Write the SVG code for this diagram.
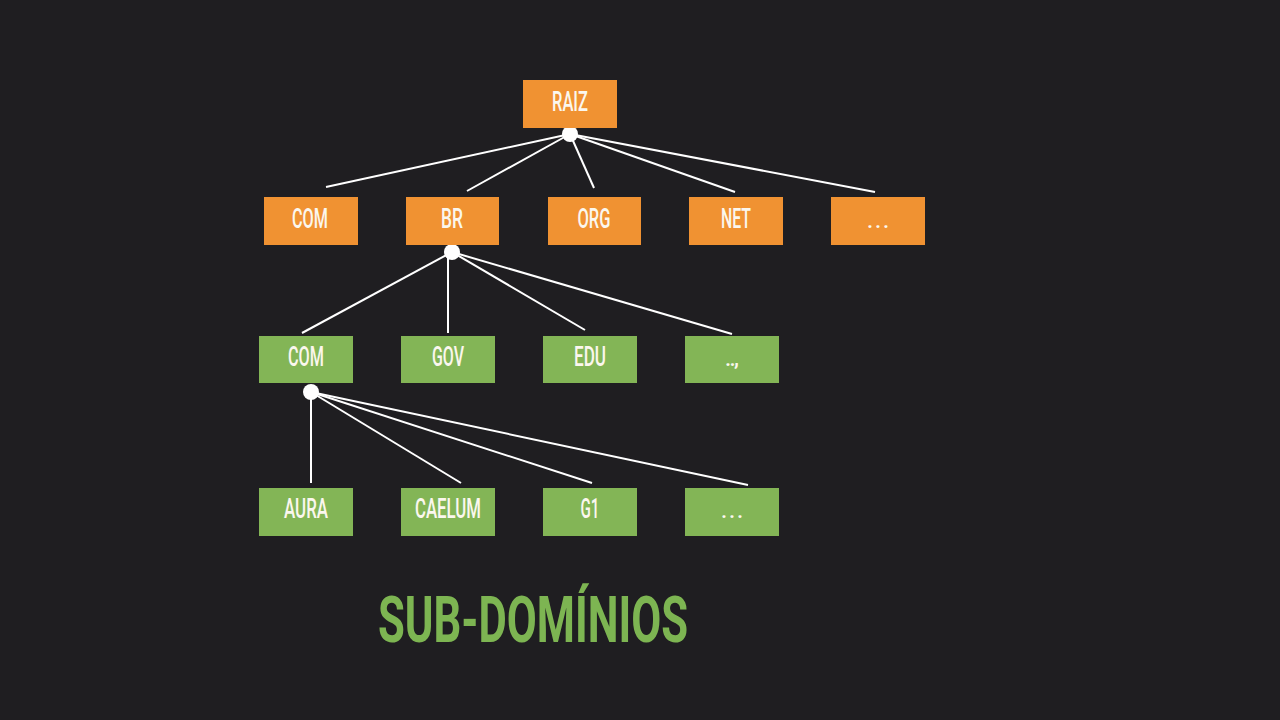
<svg xmlns="http://www.w3.org/2000/svg" width="1280" height="720" viewBox="0 0 1280 720">
<style>
.o{fill:#f09232}
.g{fill:#83b556}
.t{font-family:Roboto,"Liberation Sans",sans-serif;font-size:27px;fill:#fbf7ee;text-anchor:middle;font-weight:500}
.d{font-family:Roboto,"Liberation Sans",sans-serif;font-size:22px;fill:#fbf7ee;text-anchor:middle;font-weight:500}
.c line{stroke:#ffffff;stroke-width:2}
.c circle{fill:#ffffff}
</style>
<rect width="1280" height="720" fill="#1f1e21"/>
<g class="c" id="connectors">
<line x1="570" y1="134" x2="326" y2="187"/>
<line x1="570" y1="134" x2="467" y2="191"/>
<line x1="570" y1="134" x2="594" y2="188"/>
<line x1="570" y1="134" x2="735" y2="192"/>
<line x1="570" y1="134" x2="875" y2="192"/>
<circle cx="570" cy="134" r="8"/>
<line x1="452" y1="252" x2="302" y2="333"/>
<line x1="448" y1="252" x2="448" y2="333"/>
<line x1="452" y1="252" x2="585" y2="330"/>
<line x1="452" y1="252" x2="732" y2="334"/>
<circle cx="452" cy="252" r="8"/>
<line x1="311" y1="392" x2="311" y2="483"/>
<line x1="311" y1="392" x2="461" y2="483"/>
<line x1="311" y1="392" x2="592" y2="483"/>
<line x1="311" y1="392" x2="748" y2="485"/>
<circle cx="311" cy="392" r="8"/>
</g>
<g id="raiz"><rect class="o" x="523" y="80" width="94" height="48"/><text class="t" x="570" y="111" textLength="36" lengthAdjust="spacingAndGlyphs">RAIZ</text></g>
<g id="com1"><rect class="o" x="264" y="197" width="94" height="48"/><text class="t" x="310" y="228" textLength="36" lengthAdjust="spacingAndGlyphs">COM</text></g>
<g id="br"><rect class="o" x="406" y="197" width="93" height="48"/><text class="t" x="452" y="228" textLength="22" lengthAdjust="spacingAndGlyphs">BR</text></g>
<g id="org"><rect class="o" x="548" y="197" width="93" height="48"/><text class="t" x="594" y="228" textLength="33" lengthAdjust="spacingAndGlyphs">ORG</text></g>
<g id="net"><rect class="o" x="689" y="197" width="94" height="48"/><text class="t" x="736" y="228" textLength="30" lengthAdjust="spacingAndGlyphs">NET</text></g>
<g id="more1"><rect class="o" x="831" y="197" width="94" height="48"/><text class="d" x="878" y="228" textLength="22" lengthAdjust="spacing">. . .</text></g>
<g id="com2"><rect class="g" x="259" y="336" width="94" height="47"/><text class="t" x="306" y="366" textLength="36" lengthAdjust="spacingAndGlyphs">COM</text></g>
<g id="gov"><rect class="g" x="401" y="336" width="94" height="47"/><text class="t" x="448" y="366" textLength="32" lengthAdjust="spacingAndGlyphs">GOV</text></g>
<g id="edu"><rect class="g" x="543" y="336" width="94" height="47"/><text class="t" x="590" y="366" textLength="32" lengthAdjust="spacingAndGlyphs">EDU</text></g>
<g id="more2"><rect class="g" x="685" y="336" width="94" height="47"/><text class="d" x="732" y="366" textLength="14" lengthAdjust="spacing">..,</text></g>
<g id="aura"><rect class="g" x="259" y="488" width="94" height="48"/><text class="t" x="306" y="518" textLength="44" lengthAdjust="spacingAndGlyphs">AURA</text></g>
<g id="caelum"><rect class="g" x="401" y="488" width="94" height="48"/><text class="t" x="448" y="518" textLength="66" lengthAdjust="spacingAndGlyphs">CAELUM</text></g>
<g id="g1"><rect class="g" x="543" y="488" width="94" height="48"/><text class="t" x="590" y="518" textLength="19" lengthAdjust="spacingAndGlyphs">G1</text></g>
<g id="more3"><rect class="g" x="685" y="488" width="94" height="48"/><text class="d" x="732" y="518" textLength="22" lengthAdjust="spacing">. . .</text></g>
<text x="533" y="642" font-family="Roboto,Liberation Sans,sans-serif" font-weight="700" font-size="64" fill="#7db552" text-anchor="middle" textLength="310" lengthAdjust="spacingAndGlyphs">SUB-DOMÍNIOS</text>
</svg>
